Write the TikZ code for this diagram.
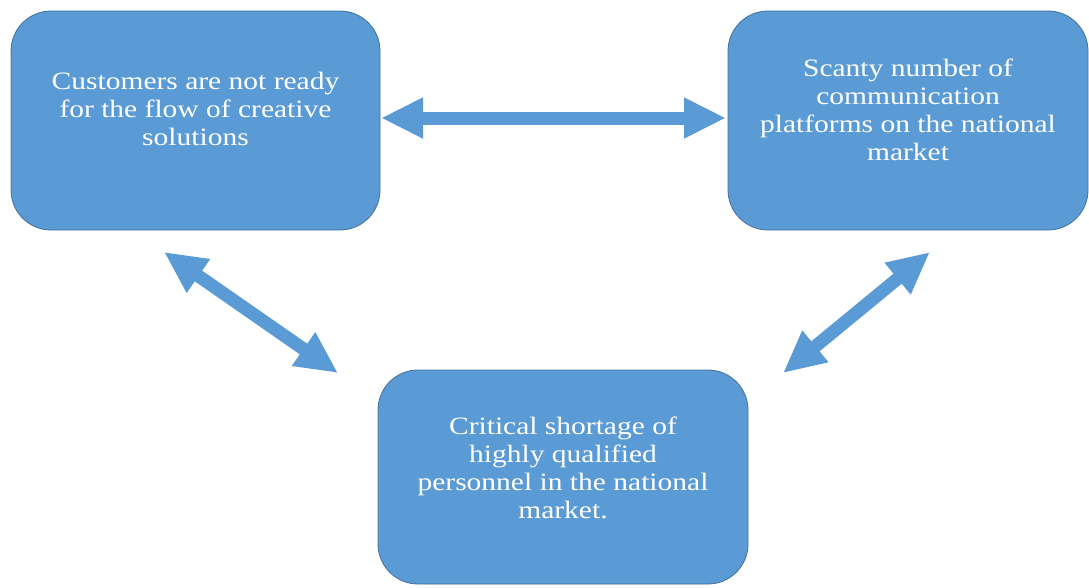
\documentclass[tikz,border=0pt]{standalone}
\usepackage{fontspec}
\setmainfont{Liberation Serif}
\usetikzlibrary{arrows.meta}
\definecolor{boxfill}{HTML}{5B9BD5}
\definecolor{boxedge}{HTML}{41719C}
\newcommand{\boxtext}[1]{\scalebox{1.18}[1]{\fontsize{25}{28}\selectfont\begin{tabular}{@{}c@{}}#1\end{tabular}}}
\tikzset{
  boxshape/.style={draw=boxedge, line width=0.8pt, fill=boxfill, rounded corners=40pt, inner sep=0pt},
  boxlabel/.style={text=white, inner sep=0pt},
  dblarrow/.style={draw=boxfill, line width=13pt,
    {Triangle[width=38pt,length=42pt]}-{Triangle[width=38pt,length=42pt]}}
}
\begin{document}
\begin{tikzpicture}[x=1pt,y=-1pt]
\useasboundingbox (0,0) rectangle (1089,587);
% boxes
\node[boxshape, minimum width=369pt, minimum height=219pt] (cust) at (195.5,120.5) {};
\node[boxshape, minimum width=360pt, minimum height=219pt] (plat) at (908,120.5) {};
\node[boxshape, minimum width=370pt, minimum height=214pt] (pers) at (563,477) {};
% labels
\node[boxlabel] (custtext) at ([yshift=9pt]cust.center) {\boxtext{Customers are not ready\\for the flow of creative\\solutions}};
\node[boxlabel] (plattext) at ([yshift=8pt]plat.center) {\boxtext{Scanty number of\\communication\\platforms on the national\\market}};
\node[boxlabel] (perstext) at ([yshift=6pt]pers.center) {\boxtext{Critical shortage of\\highly qualified\\personnel in the national\\market.}};
% arrow end points
\coordinate (tl) at (381,118);
\coordinate (tr) at (726,118);
\coordinate (dl1) at (164,252);
\coordinate (dl2) at (338,373);
\coordinate (dr1) at (930,252);
\coordinate (dr2) at (783,373);
% connectors
\draw[dblarrow] (tl) -- (tr);
\draw[dblarrow] (dl1) -- (dl2);
\draw[dblarrow] (dr1) -- (dr2);
\end{tikzpicture}
\end{document}
